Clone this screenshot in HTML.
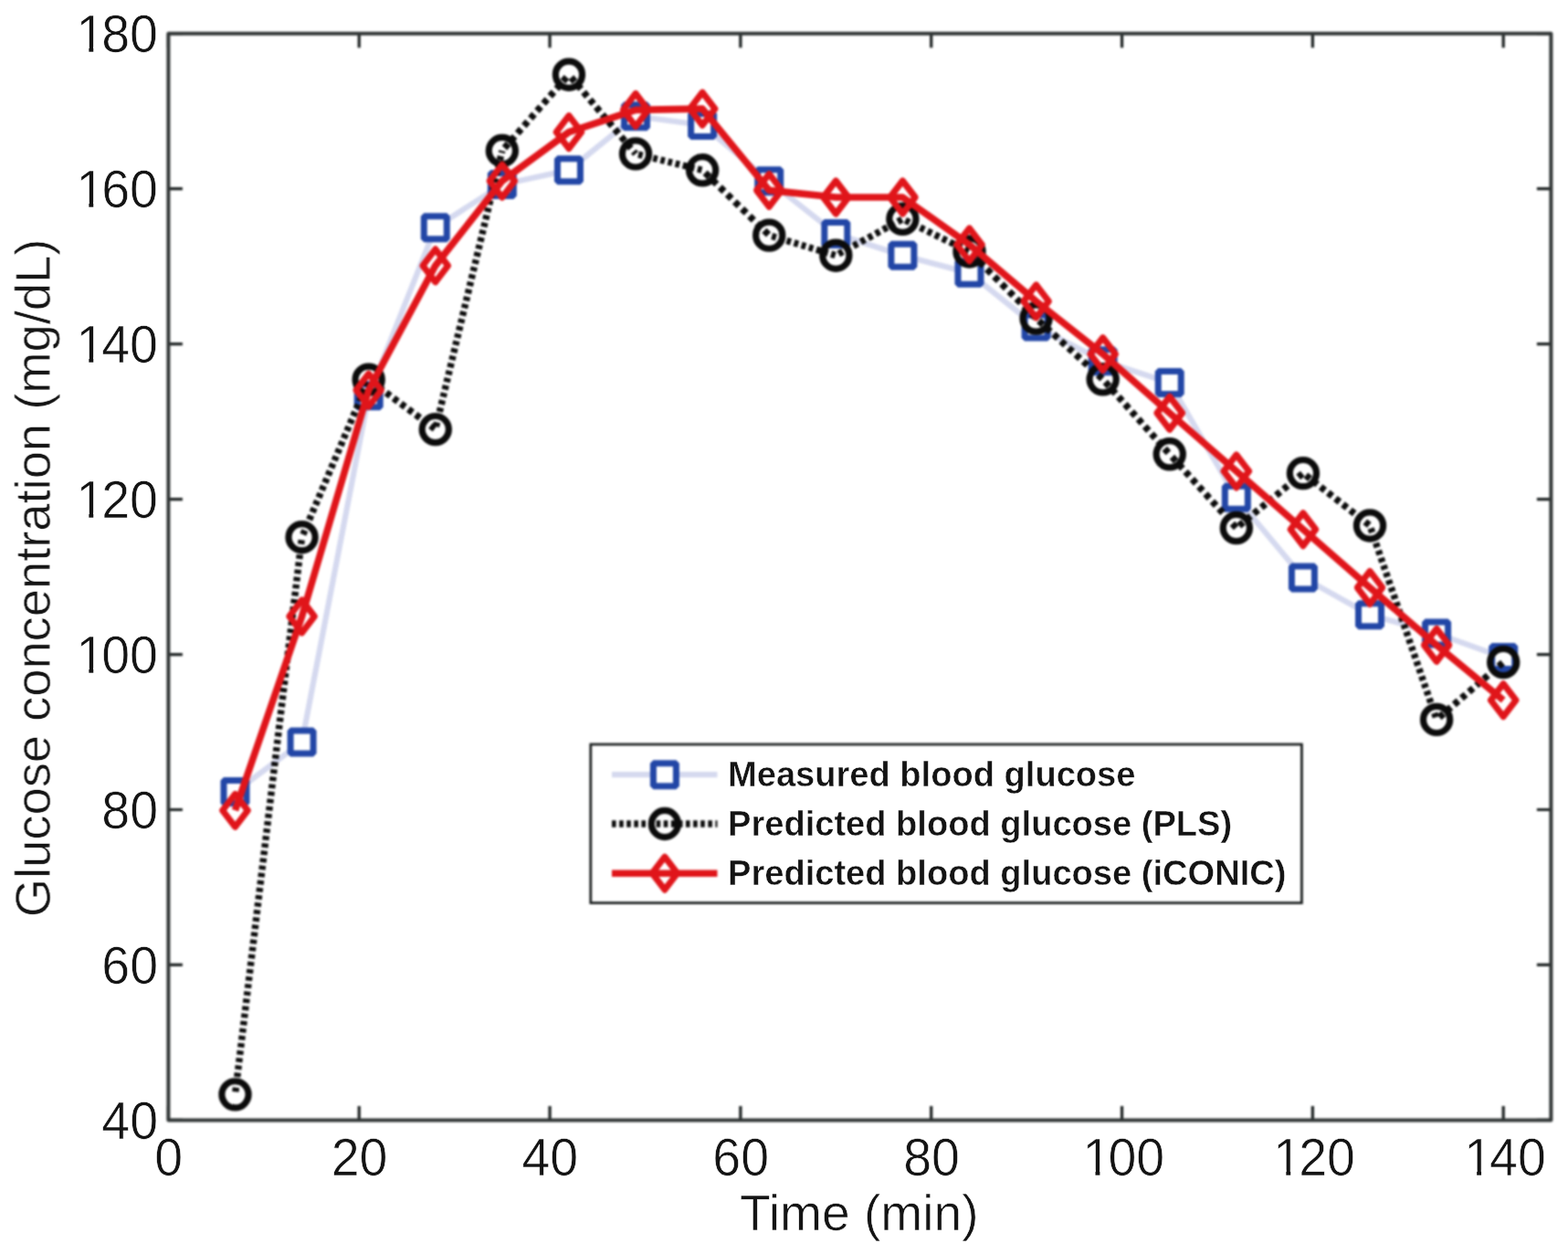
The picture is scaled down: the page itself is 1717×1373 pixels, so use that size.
<!DOCTYPE html>
<html><head><meta charset="utf-8"><title>Glucose concentration vs time</title>
<style>html,body{margin:0;padding:0;background:#fff;overflow:hidden;}svg{display:block;}</style></head>
<body>
<svg width="1717" height="1373" viewBox="0 0 1717 1373">
<defs>
<filter id="b" filterUnits="userSpaceOnUse" x="0" y="0" width="1717" height="1373" color-interpolation-filters="sRGB"><feGaussianBlur stdDeviation="0.9"/></filter>
<filter id="t" filterUnits="userSpaceOnUse" x="0" y="0" width="1717" height="1373" color-interpolation-filters="sRGB"><feGaussianBlur stdDeviation="0.5"/></filter>
</defs>
<rect width="1717" height="1373" fill="#fff"/>
<g filter="url(#b)">
<polyline points="257.49,866.94 330.58,812.55 403.67,433.13 476.76,249.15 549.85,201.98 622.94,186.26 696.03,127.20 769.12,136.97 842.21,198.16 915.30,255.94 988.39,279.74 1061.48,298.86 1134.57,357.49 1207.66,395.31 1280.75,419.10 1353.84,544.87 1426.93,632.40 1500.02,673.19 1573.11,693.58 1646.20,719.93" fill="none" stroke="#d5d9ef" stroke-width="6.2" stroke-linejoin="round"/>
<g fill="#fff" stroke="#2246a6" stroke-width="7.0" stroke-linejoin="bevel"><rect x="244.99" y="854.44" width="25.00" height="25.00"/><rect x="318.08" y="800.05" width="25.00" height="25.00"/><rect x="391.17" y="420.63" width="25.00" height="25.00"/><rect x="464.26" y="236.65" width="25.00" height="25.00"/><rect x="537.35" y="189.48" width="25.00" height="25.00"/><rect x="610.44" y="173.76" width="25.00" height="25.00"/><rect x="683.53" y="114.70" width="25.00" height="25.00"/><rect x="756.62" y="124.47" width="25.00" height="25.00"/><rect x="829.71" y="185.66" width="25.00" height="25.00"/><rect x="902.80" y="243.44" width="25.00" height="25.00"/><rect x="975.89" y="267.24" width="25.00" height="25.00"/><rect x="1048.98" y="286.36" width="25.00" height="25.00"/><rect x="1122.07" y="344.99" width="25.00" height="25.00"/><rect x="1195.16" y="382.81" width="25.00" height="25.00"/><rect x="1268.25" y="406.60" width="25.00" height="25.00"/><rect x="1341.34" y="532.37" width="25.00" height="25.00"/><rect x="1414.43" y="619.90" width="25.00" height="25.00"/><rect x="1487.52" y="660.69" width="25.00" height="25.00"/><rect x="1560.61" y="681.08" width="25.00" height="25.00"/><rect x="1633.70" y="707.43" width="25.00" height="25.00"/></g>
<g stroke="#0b0b0b" stroke-width="7.4"><line x1="257.49" y1="1198.36" x2="330.58" y2="588.21" stroke-dasharray="4.63 3.53" stroke-dashoffset="5.14"/><line x1="330.58" y1="588.21" x2="403.67" y2="415.70" stroke-dasharray="5.00 3.80" stroke-dashoffset="5.54"/><line x1="403.67" y1="415.70" x2="476.76" y2="470.09" stroke-dasharray="5.73 4.36" stroke-dashoffset="6.36"/><line x1="476.76" y1="470.09" x2="549.85" y2="165.02" stroke-dasharray="4.73 3.60" stroke-dashoffset="5.24"/><line x1="549.85" y1="165.02" x2="622.94" y2="81.74" stroke-dasharray="6.12 4.66" stroke-dashoffset="6.79"/><line x1="622.94" y1="81.74" x2="696.03" y2="168.42" stroke-dasharray="6.02 4.58" stroke-dashoffset="6.67"/><line x1="696.03" y1="168.42" x2="769.12" y2="186.26" stroke-dasharray="4.74 3.60" stroke-dashoffset="5.25"/><line x1="769.12" y1="186.26" x2="842.21" y2="257.64" stroke-dasharray="6.43 4.89" stroke-dashoffset="7.13"/><line x1="842.21" y1="257.64" x2="915.30" y2="279.74" stroke-dasharray="4.81 3.66" stroke-dashoffset="5.33"/><line x1="915.30" y1="279.74" x2="988.39" y2="239.80" stroke-dasharray="5.24 3.99" stroke-dashoffset="5.81"/><line x1="988.39" y1="239.80" x2="1061.48" y2="275.49" stroke-dasharray="5.12 3.90" stroke-dashoffset="5.68"/><line x1="1061.48" y1="275.49" x2="1134.57" y2="348.57" stroke-dasharray="6.51 4.95" stroke-dashoffset="7.21"/><line x1="1134.57" y1="348.57" x2="1207.66" y2="415.28" stroke-dasharray="6.23 4.74" stroke-dashoffset="6.90"/><line x1="1207.66" y1="415.28" x2="1280.75" y2="497.28" stroke-dasharray="6.16 4.69" stroke-dashoffset="6.83"/><line x1="1280.75" y1="497.28" x2="1353.84" y2="578.01" stroke-dasharray="6.21 4.72" stroke-dashoffset="6.88"/><line x1="1353.84" y1="578.01" x2="1426.93" y2="518.10" stroke-dasharray="5.95 4.53" stroke-dashoffset="6.59"/><line x1="1426.93" y1="518.10" x2="1500.02" y2="575.46" stroke-dasharray="5.85 4.45" stroke-dashoffset="6.48"/><line x1="1500.02" y1="575.46" x2="1573.11" y2="787.91" stroke-dasharray="4.86 3.70" stroke-dashoffset="5.39"/><line x1="1573.11" y1="787.91" x2="1646.20" y2="725.03" stroke-dasharray="6.07 4.62" stroke-dashoffset="6.73"/></g>
<g fill="none" stroke="#0b0b0b" stroke-width="7.2"><circle cx="257.49" cy="1198.36" r="14.6"/><circle cx="330.58" cy="588.21" r="14.6"/><circle cx="403.67" cy="415.70" r="14.6"/><circle cx="476.76" cy="470.09" r="14.6"/><circle cx="549.85" cy="165.02" r="14.6"/><circle cx="622.94" cy="81.74" r="14.6"/><circle cx="696.03" cy="168.42" r="14.6"/><circle cx="769.12" cy="186.26" r="14.6"/><circle cx="842.21" cy="257.64" r="14.6"/><circle cx="915.30" cy="279.74" r="14.6"/><circle cx="988.39" cy="239.80" r="14.6"/><circle cx="1061.48" cy="275.49" r="14.6"/><circle cx="1134.57" cy="348.57" r="14.6"/><circle cx="1207.66" cy="415.28" r="14.6"/><circle cx="1280.75" cy="497.28" r="14.6"/><circle cx="1353.84" cy="578.01" r="14.6"/><circle cx="1426.93" cy="518.10" r="14.6"/><circle cx="1500.02" cy="575.46" r="14.6"/><circle cx="1573.11" cy="787.91" r="14.6"/><circle cx="1646.20" cy="725.03" r="14.6"/></g>
<polyline points="257.49,887.34 330.58,674.89 403.67,427.18 476.76,290.79 549.85,198.16 622.94,144.62 696.03,120.40 769.12,119.13 842.21,208.36 915.30,216.00 988.39,216.00 1061.48,267.84 1134.57,329.88 1207.66,387.66 1280.75,452.25 1353.84,515.98 1426.93,579.71 1500.02,643.45 1573.11,706.33 1646.20,766.67" fill="none" stroke="#e0151a" stroke-width="7.6" stroke-linejoin="round"/>
<g fill="none" stroke="#e0151a" stroke-width="7.0" stroke-linejoin="round"><path d="M257.49 869.34L271.29 887.34L257.49 905.34L243.69 887.34Z"/><path d="M330.58 656.89L344.38 674.89L330.58 692.89L316.78 674.89Z"/><path d="M403.67 409.18L417.47 427.18L403.67 445.18L389.87 427.18Z"/><path d="M476.76 272.79L490.56 290.79L476.76 308.79L462.96 290.79Z"/><path d="M549.85 180.16L563.65 198.16L549.85 216.16L536.05 198.16Z"/><path d="M622.94 126.62L636.74 144.62L622.94 162.62L609.14 144.62Z"/><path d="M696.03 102.40L709.83 120.40L696.03 138.40L682.23 120.40Z"/><path d="M769.12 101.13L782.92 119.13L769.12 137.13L755.32 119.13Z"/><path d="M842.21 190.36L856.01 208.36L842.21 226.36L828.41 208.36Z"/><path d="M915.30 198.00L929.10 216.00L915.30 234.00L901.50 216.00Z"/><path d="M988.39 198.00L1002.19 216.00L988.39 234.00L974.59 216.00Z"/><path d="M1061.48 249.84L1075.28 267.84L1061.48 285.84L1047.68 267.84Z"/><path d="M1134.57 311.88L1148.37 329.88L1134.57 347.88L1120.77 329.88Z"/><path d="M1207.66 369.66L1221.46 387.66L1207.66 405.66L1193.86 387.66Z"/><path d="M1280.75 434.25L1294.55 452.25L1280.75 470.25L1266.95 452.25Z"/><path d="M1353.84 497.98L1367.64 515.98L1353.84 533.98L1340.04 515.98Z"/><path d="M1426.93 561.71L1440.73 579.71L1426.93 597.71L1413.13 579.71Z"/><path d="M1500.02 625.45L1513.82 643.45L1500.02 661.45L1486.22 643.45Z"/><path d="M1573.11 688.33L1586.91 706.33L1573.11 724.33L1559.31 706.33Z"/><path d="M1646.20 748.67L1660.00 766.67L1646.20 784.67L1632.40 766.67Z"/></g>
<path d="M184.40 1226.40V1210.90M184.40 36.70V52.20M393.23 1226.40V1210.90M393.23 36.70V52.20M602.06 1226.40V1210.90M602.06 36.70V52.20M810.89 1226.40V1210.90M810.89 36.70V52.20M1019.71 1226.40V1210.90M1019.71 36.70V52.20M1228.54 1226.40V1210.90M1228.54 36.70V52.20M1437.37 1226.40V1210.90M1437.37 36.70V52.20M1646.20 1226.40V1210.90M1646.20 36.70V52.20M184.40 1226.40H199.90M1698.41 1226.40H1682.91M184.40 1056.44H199.90M1698.41 1056.44H1682.91M184.40 886.49H199.90M1698.41 886.49H1682.91M184.40 716.53H199.90M1698.41 716.53H1682.91M184.40 546.57H199.90M1698.41 546.57H1682.91M184.40 376.61H199.90M1698.41 376.61H1682.91M184.40 206.66H199.90M1698.41 206.66H1682.91M184.40 36.70H199.90M1698.41 36.70H1682.91" stroke="#1c2121" stroke-width="3.2" fill="none"/>
<rect x="184.40" y="36.70" width="1514.01" height="1189.70" fill="none" stroke="#313636" stroke-width="4.0" stroke-linejoin="round"/>
<rect x="646.8" y="815.0" width="778.6" height="173.6" fill="#fff" stroke="#161a1a" stroke-width="2.7"/>
<line x1="670.0" y1="848.2" x2="785.5" y2="848.2" stroke="#d5d9ef" stroke-width="6.2"/>
<g fill="#fff" stroke="#2246a6" stroke-width="7.0" stroke-linejoin="bevel"><rect x="715.40" y="835.70" width="25.00" height="25.00"/></g>
<g stroke="#0b0b0b" stroke-width="7.4"><line x1="670.00" y1="902.00" x2="785.50" y2="902.00" stroke-dasharray="4.60 3.50" stroke-dashoffset="8.10"/></g>
<g fill="none" stroke="#0b0b0b" stroke-width="7.2"><circle cx="727.90" cy="902.00" r="14.6"/></g>
<line x1="670.0" y1="956.2" x2="785.5" y2="956.2" stroke="#e0151a" stroke-width="7.4"/>
<g fill="none" stroke="#e0151a" stroke-width="7.0" stroke-linejoin="round"><path d="M727.90 938.20L741.70 956.20L727.90 974.20L714.10 956.20Z"/></g>
</g>
<g filter="url(#t)">
<g font-family="Liberation Sans, Arial, Helvetica, sans-serif" font-size="55.5" fill="#141414" stroke="#fff" stroke-width="0.6">
<text transform="translate(169.27,1286.6) scale(1,1.04)">0</text><text transform="translate(362.66,1286.6) scale(1,1.04)">20</text><text transform="translate(571.49,1286.6) scale(1,1.04)">40</text><text transform="translate(780.32,1286.6) scale(1,1.04)">60</text><text transform="translate(989.15,1286.6) scale(1,1.04)">80</text><text transform="translate(1182.54,1286.6) scale(1,1.04)"><tspan dx="3.0">1</tspan><tspan dx="-3.0">00</tspan></text><text transform="translate(1391.37,1286.6) scale(1,1.04)"><tspan dx="3.0">1</tspan><tspan dx="-3.0">20</tspan></text><text transform="translate(1600.20,1286.6) scale(1,1.04)"><tspan dx="3.0">1</tspan><tspan dx="-3.0">40</tspan></text><text transform="translate(111.27,1246.90) scale(1,1.04)">40</text><text transform="translate(111.27,1076.94) scale(1,1.04)">60</text><text transform="translate(111.27,906.99) scale(1,1.04)">80</text><text transform="translate(80.40,737.03) scale(1,1.04)"><tspan dx="3.0">1</tspan><tspan dx="-3.0">00</tspan></text><text transform="translate(80.40,567.07) scale(1,1.04)"><tspan dx="3.0">1</tspan><tspan dx="-3.0">20</tspan></text><text transform="translate(80.40,397.11) scale(1,1.04)"><tspan dx="3.0">1</tspan><tspan dx="-3.0">40</tspan></text><text transform="translate(80.40,227.16) scale(1,1.04)"><tspan dx="3.0">1</tspan><tspan dx="-3.0">60</tspan></text><text transform="translate(80.40,57.20) scale(1,1.04)"><tspan dx="3.0">1</tspan><tspan dx="-3.0">80</tspan></text>
<text x="940.8" y="1346.6" text-anchor="middle" font-size="55.2">Time (min)</text>
<text transform="translate(54.6,632.9) rotate(-90)" text-anchor="middle" font-size="54.3">Glucose concentration (mg/dL)</text>
</g>
<path d="M1188.77 1280.69H1199.50V1287.60H1188.77ZM1204.40 1280.69H1214.70V1287.60H1204.40ZM1397.60 1280.69H1408.33V1287.60H1397.60ZM1413.23 1280.69H1423.53V1287.60H1413.23ZM1606.43 1280.69H1617.16V1287.60H1606.43ZM1622.06 1280.69H1632.36V1287.60H1622.06ZM86.63 731.12H97.36V738.03H86.63ZM102.26 731.12H112.56V738.03H102.26ZM86.63 561.16H97.36V568.07H86.63ZM102.26 561.16H112.56V568.07H102.26ZM86.63 391.20H97.36V398.11H86.63ZM102.26 391.20H112.56V398.11H102.26ZM86.63 221.25H97.36V228.16H86.63ZM102.26 221.25H112.56V228.16H102.26ZM86.63 51.29H97.36V58.20H86.63ZM102.26 51.29H112.56V58.20H102.26Z" fill="#fff"/>
<g font-family="Liberation Sans, Arial, Helvetica, sans-serif" font-size="38.1" font-weight="bold" fill="#141414" stroke="#fff" stroke-width="0.4"><text x="797.0" y="860.8">Measured blood glucose</text><text x="797.0" y="914.6">Predicted blood glucose (PLS)</text><text x="797.0" y="968.8">Predicted blood glucose (iCONIC)</text></g>
</g>
</svg>
</body></html>
